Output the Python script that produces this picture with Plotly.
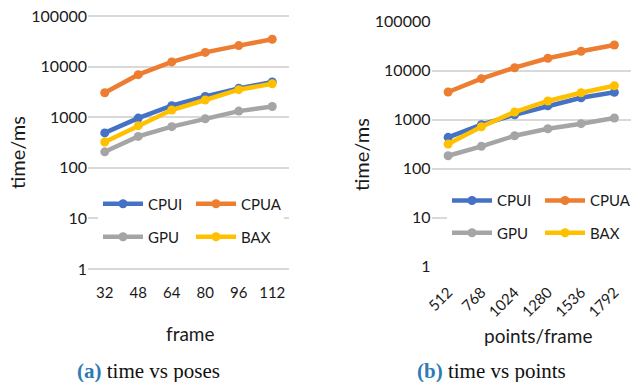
import plotly.graph_objects as go

# ---- data ----
frames = ["32", "48", "64", "80", "96", "112"]
points = ["512", "768", "1024", "1280", "1536", "1792"]
series_names = ["CPUI", "CPUA", "GPU", "BAX"]
colors = ["#4472C4", "#ED7D31", "#A5A5A5", "#FFC000"]

poses_cpui = [490, 960, 1690, 2580, 3720, 4980]
poses_cpua = [3050, 6930, 12400, 19100, 26000, 34700]
poses_gpu = [207, 417, 650, 930, 1320, 1630]
poses_bax = [323, 680, 1385, 2185, 3500, 4590]

points_cpui = [437, 790, 1260, 1930, 2810, 3620]
points_cpua = [3670, 6870, 11500, 17900, 24900, 33400]
points_gpu = [184, 286, 470, 655, 830, 1083]
points_bax = [318, 719, 1435, 2410, 3550, 4930]

y_tickvals = [1, 10, 100, 1000, 10000, 100000]
y_ticktext = ["1", "10", "100", "1000", "10000", "100000"]

FONT = "Lato"
TXT = "#1a1a1a"
W, H = 635, 382

fig = go.Figure()

left_series = [poses_cpui, poses_cpua, poses_gpu, poses_bax]
right_series = [points_cpui, points_cpua, points_gpu, points_bax]
left_legends = ["legend", "legend", "legend2", "legend2"]
right_legends = ["legend3", "legend3", "legend4", "legend4"]

for name, vals, col, lg in zip(series_names, left_series, colors, left_legends):
    fig.add_trace(go.Scatter(x=frames, y=vals, name=name, mode="lines+markers",
                             line=dict(color=col, width=4.5),
                             marker=dict(color=col, size=9),
                             xaxis="x", yaxis="y", legend=lg))
for name, vals, col, lg in zip(series_names, right_series, colors, right_legends):
    fig.add_trace(go.Scatter(x=points, y=vals, name=name, mode="lines+markers",
                             line=dict(color=col, width=4.5),
                             marker=dict(color=col, size=9),
                             xaxis="x2", yaxis="y2", legend=lg))

def px_x(v):
    return v / W

def px_y(v):
    return (H - v) / H

yax = dict(type="log", range=[-0.02, 5.02], tickmode="array", tickvals=y_tickvals,
           ticktext=y_ticktext, showgrid=True, gridcolor="#d9d9d9", gridwidth=1.6,
           showline=False, zeroline=False, ticks="", ticklabelstandoff=0, automargin=False,
           tickfont=dict(family=FONT, size=16, color=TXT))
xax = dict(type="category", range=[-0.5, 5.5], showgrid=False, showline=False,
           zeroline=False, ticks="", ticklabelstandoff=12, automargin=False,
           tickfont=dict(family=FONT, size=15, color=TXT))

legend_common = dict(orientation="h", bgcolor="white", borderwidth=0,
                     font=dict(family=FONT, size=15, color=TXT),
                     xanchor="left", yanchor="middle", itemwidth=40,
                     entrywidth=38, entrywidthmode="pixels",
                     xref="paper", yref="paper", tracegroupgap=0)

fig.update_layout(
    width=W, height=H, autosize=False,
    margin=dict(l=0, r=0, t=0, b=0, pad=0, autoexpand=False),
    paper_bgcolor="white", plot_bgcolor="white",
    xaxis=dict(domain=[px_x(88), px_x(289)], anchor="y", **xax),
    yaxis=dict(domain=[px_y(270), px_y(15)], anchor="x", **yax),
    xaxis2=dict(domain=[px_x(431.5), px_x(631)], anchor="y2", tickangle=-45, **xax),
    yaxis2=dict(domain=[px_y(267.7), px_y(20.7)], anchor="x2", **yax),
    legend=dict(x=px_x(98), y=px_y(204), **legend_common),
    legend2=dict(x=px_x(98), y=px_y(237), **legend_common),
    legend3=dict(x=px_x(447), y=px_y(200.7), **legend_common),
    legend4=dict(x=px_x(447), y=px_y(233), **legend_common),
    showlegend=True,
)

def note(text, x, y, size, family=FONT, angle=0, color=TXT):
    return dict(text=text, x=px_x(x), y=px_y(y), xref="paper", yref="paper",
                xanchor="center", yanchor="middle", showarrow=False, textangle=angle,
                font=dict(family=family, size=size, color=color))

ann = [
    note("time/ms", 17, 153, 20, angle=-90),
    note("time/ms", 361, 155, 20, angle=-90),
    note("frame", 190, 333, 19),
    note("points/frame", 538, 335, 19),
    note("<b><span style='color:#2E7BB6'>(a)</span></b> time vs poses", 148.5, 371, 21,
         family="Liberation Serif", color="#111111"),
    note("<b><span style='color:#2E7BB6'>(b)</span></b> time vs points", 491.5, 371, 21,
         family="Liberation Serif", color="#111111"),
]
fig.update_layout(annotations=ann)

fig.write_html("out.html", config={"displayModeBar": False},
               post_script="document.body.style.margin='0';document.body.style.padding='0';"
                           "document.documentElement.style.overflow='hidden';")
